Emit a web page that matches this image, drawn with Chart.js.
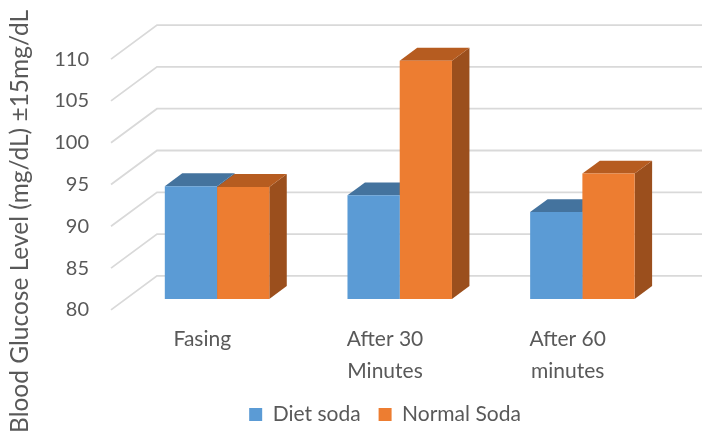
<!DOCTYPE html>
<html>
<head>
<meta charset="utf-8">
<title>Blood glucose: diet vs normal soda</title>
<script src="https://cdn.jsdelivr.net/npm/chart.js@4.4.1/dist/chart.umd.min.js"></script>
<style>
  html, body { margin: 0; padding: 0; background: #ffffff; }
  canvas { display: block; }
</style>
</head>
<body>
<canvas id="chart" width="702" height="431"></canvas>
<script>
// ---- data ----
const categories = ['Fasing', ['After 30', 'Minutes'], ['After 60', 'minutes']];
const seriesNames = ['Diet soda', 'Normal Soda'];
const dietSoda = [93.5, 92.4, 90.4];
const normalSoda = [93.4, 108.5, 95.0];
const yMin = 80;
const yMax = 110;
const yStep = 5;
const yTitle = 'Blood Glucose Level (mg/dL) \u00b115mg/dL';

// ---- styling ----
const TEXT = '#595959';
const GRID = '#d9d9d9';
const FONT = 'Lato';
const BLUE = { front: '#5b9bd5', top: '#44739e', side: '#3c6790' };
const ORANGE = { front: '#ed7d31', top: '#b65c20', side: '#9b4f1d' };

// 3D box geometry: the full depth of the floor/walls, and where the bars sit inside it
const WALL_DX = 46;
const WALL_DY = 34;
const BAR_FRONT = 0.32;
const BAR_DEPTH = 0.38;

function fillPoly(ctx, pts) {
  ctx.beginPath();
  ctx.moveTo(pts[0][0], pts[0][1]);
  for (let i = 1; i < pts.length; i++) ctx.lineTo(pts[i][0], pts[i][1]);
  ctx.closePath();
  ctx.fill();
}

// Draws the receding gridlines, then the top and side faces of every bar.
// The bar fronts are drawn by Chart.js itself, shifted into the middle of the depth.
const depth3d = {
  id: 'depth3d',
  beforeDatasetsDraw(chart) {
    const { ctx, chartArea: a } = chart;
    const y = chart.scales.y;
    ctx.save();
    ctx.strokeStyle = GRID;
    ctx.lineWidth = 1.8;
    for (let v = yMin; v <= yMax; v += yStep) {
      const py = y.getPixelForValue(v);
      ctx.beginPath();
      ctx.moveTo(a.left, py);
      ctx.lineTo(a.left + WALL_DX, py - WALL_DY);
      ctx.lineTo(chart.width, py - WALL_DY);
      ctx.stroke();
    }
    ctx.restore();

    ctx.save();
    ctx.translate(WALL_DX * BAR_FRONT, -WALL_DY * BAR_FRONT);
    const bx = WALL_DX * BAR_DEPTH;
    const by = WALL_DY * BAR_DEPTH;
    const floor = y.getPixelForValue(yMin);
    chart.data.datasets.forEach((ds, di) => {
      const meta = chart.getDatasetMeta(di);
      meta.data.forEach(bar => {
        const { x, y: top, base, width } = bar.getProps(['x', 'y', 'base', 'width'], true);
        const bottom = Math.min(base, floor);
        const l = x - width / 2;
        const r = x + width / 2;
        ctx.fillStyle = ds.sideColor;
        fillPoly(ctx, [[r, top], [r + bx, top - by], [r + bx, bottom - by], [r, bottom]]);
        ctx.fillStyle = ds.topColor;
        fillPoly(ctx, [[l, top], [r, top], [r + bx, top - by], [l + bx, top - by]]);
      });
    });
    // the translation stays on while Chart.js paints the bar fronts
  },
  afterDatasetsDraw(chart) {
    chart.ctx.restore();
  }
};

// Rotated axis title down the left edge
const yAxisTitle = {
  id: 'yAxisTitle',
  afterDraw(chart) {
    const ctx = chart.ctx;
    ctx.save();
    ctx.font = '24.5px ' + FONT;
    ctx.fillStyle = TEXT;
    ctx.translate(28, 10);
    ctx.rotate(-Math.PI / 2);
    ctx.textAlign = 'right';
    ctx.textBaseline = 'alphabetic';
    ctx.fillText(yTitle, 0, 0);
    ctx.restore();
  }
};

new Chart(document.getElementById('chart'), {
  type: 'bar',
  data: {
    labels: categories,
    datasets: [
      {
        label: seriesNames[0],
        data: dietSoda,
        base: yMin,
        backgroundColor: BLUE.front,
        topColor: BLUE.top,
        sideColor: BLUE.side,
        borderWidth: 0,
        categoryPercentage: 0.572,
        barPercentage: 1
      },
      {
        label: seriesNames[1],
        data: normalSoda,
        base: yMin,
        backgroundColor: ORANGE.front,
        topColor: ORANGE.top,
        sideColor: ORANGE.side,
        borderWidth: 0,
        categoryPercentage: 0.572,
        barPercentage: 1
      }
    ]
  },
  options: {
    responsive: false,
    animation: false,
    devicePixelRatio: 1,
    layout: { padding: { left: 0, right: 43, top: 59.1, bottom: -4 } },
    plugins: {
      tooltip: { enabled: false },
      legend: {
        position: 'bottom',
        fullSize: false,
        labels: {
          boxWidth: 13,
          boxHeight: 13,
          padding: 18,
          color: TEXT,
          font: { family: FONT, size: 21 }
        }
      }
    },
    scales: {
      x: {
        grid: { display: false, drawTicks: false },
        border: { display: false },
        ticks: {
          color: TEXT,
          padding: 13,
          maxRotation: 0,
          autoSkip: false,
          font: { family: FONT, size: 21, lineHeight: 1.52 }
        },
        afterFit(scale) { scale.height = 76.1; }
      },
      y: {
        min: yMin,
        max: yMax,
        grid: { display: false, drawTicks: false },
        border: { display: false },
        ticks: {
          stepSize: yStep,
          color: TEXT,
          padding: 22,
          font: { family: FONT, size: 20 }
        },
        afterFit(scale) { scale.width = 111; }
      }
    }
  },
  plugins: [depth3d, yAxisTitle]
});
</script>
</body>
</html>
